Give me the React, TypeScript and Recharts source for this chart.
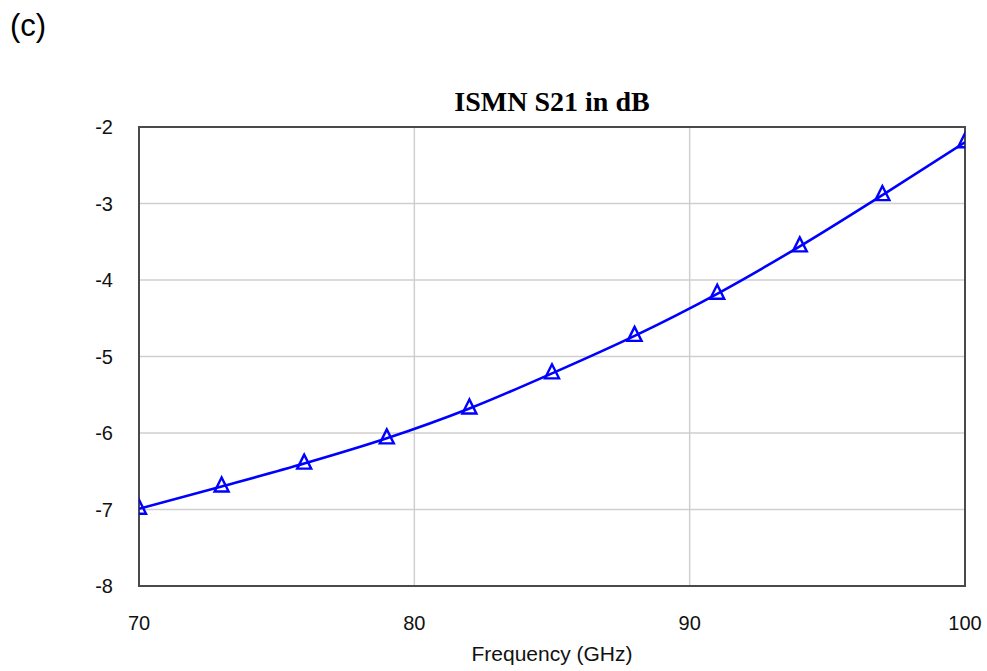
import { LineChart, Line, XAxis, YAxis, CartesianGrid, ReferenceArea } from "recharts";

// S21 of the input matching network, sampled every 3 GHz
const freqGHz = [70, 73, 76, 79, 82, 85, 88, 91, 94, 97, 100];
const s21dB = [-6.99, -6.7, -6.4, -6.07, -5.68, -5.22, -4.73, -4.18, -3.56, -2.89, -2.2];
const xTicks = [70, 80, 90, 100];
const yTicks = [-8, -7, -6, -5, -4, -3, -2];

const data = freqGHz.map((f, i) => ({ f, s21: s21dB[i] }));

const W = 987;
const H = 671;
const BLUE = "#0000ff";
const tickFont = { fontFamily: "'Liberation Sans', Arial, sans-serif", fontSize: 20, fill: "#111" };

// open triangle marker, centroid on the data point
function Triangle(props: any) {
  const { cx, cy, index } = props;
  if (cx == null || cy == null) return <g key={`t-${index}`} />;
  const pts = `${cx},${cy - 9} ${cx - 7},${cy + 5} ${cx + 7},${cy + 5}`;
  return <polygon key={`t-${index}`} points={pts} fill="none" stroke={BLUE} strokeWidth={2.4} />;
}

export default function App() {
  return (
    <div style={{ position: "absolute", left: 0, top: 0, width: W, height: H, background: "#fff" }}>
      <LineChart width={W} height={H} data={data} margin={{ top: 127, right: 22, left: 79, bottom: 55 }}>
        <CartesianGrid stroke="#cfcfcf" strokeWidth={1.5} horizontalValues={yTicks} verticalValues={xTicks} />
        <XAxis
          dataKey="f"
          type="number"
          domain={[70, 100]}
          ticks={xTicks}
          allowDataOverflow
          axisLine={false}
          tickLine={false}
          tickMargin={24}
          height={30}
          tick={tickFont}
        />
        <YAxis
          type="number"
          domain={[-8, -2]}
          ticks={yTicks}
          allowDataOverflow
          axisLine={false}
          tickLine={false}
          tickMargin={20}
          width={60}
          tick={tickFont}
        />
        <ReferenceArea x1={70} x2={100} y1={-8} y2={-2} fill="none" stroke="#4a4a4a" strokeWidth={2} />
        <Line
          dataKey="s21"
          type="monotone"
          stroke={BLUE}
          strokeWidth={2.6}
          dot={Triangle}
          activeDot={false}
          isAnimationActive={false}
        />
      </LineChart>
      <svg width={W} height={H} style={{ position: "absolute", left: 0, top: 0, pointerEvents: "none" }}>
        <text x={10} y={36} fontFamily="'Liberation Sans', Arial, sans-serif" fontSize={31} fill="#000">
          (c)
        </text>
        <text
          x={552}
          y={111}
          textAnchor="middle"
          fontFamily="'Liberation Serif', 'Times New Roman', serif"
          fontWeight="bold"
          fontSize={28}
          fill="#000"
        >
          ISMN S21 in dB
        </text>
        <text x={552} y={661} textAnchor="middle" fontFamily="'Liberation Sans', Arial, sans-serif" fontSize={21} fill="#111">
          Frequency (GHz)
        </text>
      </svg>
    </div>
  );
}
